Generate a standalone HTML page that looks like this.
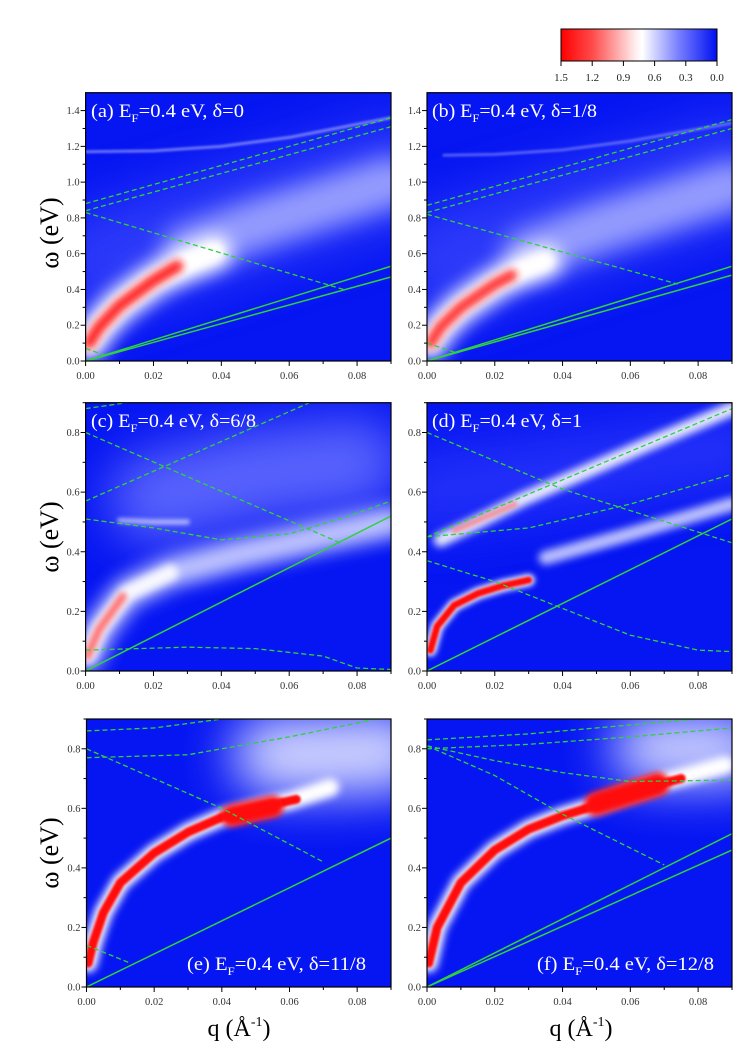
<!DOCTYPE html>
<html><head><meta charset="utf-8"><style>
html,body{margin:0;padding:0;background:#fff;}
svg{display:block;font-family:"Liberation Serif",serif;}
</style></head><body>
<svg id="fig" width="748" height="1057" viewBox="0 0 748 1057" xmlns="http://www.w3.org/2000/svg">
<defs>
<filter id="b1" filterUnits="userSpaceOnUse" x="0" y="0" width="748" height="1057"><feGaussianBlur stdDeviation="1"/></filter>
<filter id="b2" filterUnits="userSpaceOnUse" x="0" y="0" width="748" height="1057"><feGaussianBlur stdDeviation="2"/></filter>
<filter id="b3" filterUnits="userSpaceOnUse" x="0" y="0" width="748" height="1057"><feGaussianBlur stdDeviation="3"/></filter>
<filter id="b4" filterUnits="userSpaceOnUse" x="0" y="0" width="748" height="1057"><feGaussianBlur stdDeviation="4"/></filter>
<filter id="b6" filterUnits="userSpaceOnUse" x="0" y="0" width="748" height="1057"><feGaussianBlur stdDeviation="6"/></filter>
<filter id="b9" filterUnits="userSpaceOnUse" x="0" y="0" width="748" height="1057"><feGaussianBlur stdDeviation="9"/></filter>
<filter id="b12" filterUnits="userSpaceOnUse" x="0" y="0" width="748" height="1057"><feGaussianBlur stdDeviation="12"/></filter>
<filter id="b25" filterUnits="userSpaceOnUse" x="0" y="0" width="748" height="1057"><feGaussianBlur stdDeviation="25"/></filter>
<linearGradient id="cbgrad" x1="0" x2="1" y1="0" y2="0">
<stop offset="0" stop-color="#ff0000"/><stop offset="0.2" stop-color="#ff4a4a"/><stop offset="0.48" stop-color="#fff0f0"/><stop offset="0.52" stop-color="#ffffff"/><stop offset="0.75" stop-color="#7a80ff"/><stop offset="1" stop-color="#0010f0"/>
</linearGradient>
</defs>
<g id="colorbar">
<rect x="561" y="29" width="156" height="32" fill="url(#cbgrad)" stroke="#000" stroke-width="1"/>
</g>
</svg>
<script>
const NS='http://www.w3.org/2000/svg';
const svg=document.getElementById('fig');
const cbLabels=['1.5','1.2','0.9','0.6','0.3','0.0'];

// ---- panel (a) data ----
const aRidgeQ=[0.001,0.004,0.01,0.02,0.03,0.038];
const aRidgeW=[0.10,0.19,0.31,0.45,0.55,0.61];
const aCoreQ=[0.001,0.004,0.01,0.02,0.027];
const aCoreW=[0.10,0.19,0.31,0.45,0.53];
const aDiffQ=[0.03,0.05,0.07,0.09];
const aDiffW=[0.62,0.76,0.88,1.0];
const aTopQ=[0.0,0.02,0.04,0.06,0.09];
const aTopW=[1.17,1.175,1.2,1.25,1.36];
const aDash1Q=[0,0.09], aDash1W=[0.88,1.36];
const aDash2Q=[0,0.09], aDash2W=[0.84,1.31];
const aDash3Q=[0,0.076], aDash3W=[0.83,0.40];
const aDash4Q=[0,0.006], aDash4W=[0.07,0.03];
const aSol1Q=[0,0.09], aSol1W=[0,0.53];
const aSol2Q=[0,0.09], aSol2W=[0,0.47];
// ---- panel (b) data ----
const bRidgeQ=[0.001,0.004,0.01,0.02,0.028,0.035];
const bRidgeW=[0.10,0.19,0.30,0.43,0.51,0.56];
const bCoreQ=[0.001,0.004,0.01,0.02,0.025];
const bCoreW=[0.10,0.19,0.30,0.43,0.48];
const bDiffQ=[0.03,0.05,0.07,0.09];
const bDiffW=[0.60,0.74,0.86,0.98];
const bTopQ=[0.005,0.02,0.04,0.06,0.09];
const bTopW=[1.15,1.155,1.18,1.23,1.33];
const bDash1Q=[0,0.09], bDash1W=[0.87,1.35];
const bDash2Q=[0,0.09], bDash2W=[0.83,1.30];
const bDash3Q=[0,0.074], bDash3W=[0.82,0.43];
const bDash4Q=[0,0.008], bDash4W=[0.10,0.05];
const bSol1Q=[0,0.09], bSol1W=[0,0.53];
const bSol2Q=[0,0.09], bSol2W=[0,0.48];
// ---- panel (c) data ----
const cRidgeQ=[0.0005,0.004,0.012,0.025,0.045,0.065,0.09];
const cRidgeW=[0.05,0.14,0.26,0.33,0.39,0.44,0.50];
const cCoreQ=[0.0005,0.004,0.011];
const cCoreW=[0.05,0.14,0.25];
const cStreakQ=[0.01,0.02,0.03];
const cStreakW=[0.505,0.50,0.50];
const cDiffQ=[0.02,0.05,0.08];
const cDiffW=[0.58,0.66,0.70];
const cDash1Q=[0,0.006,0.012], cDash1W=[0.88,0.89,0.90];
const cDash2Q=[0,0.066], cDash2W=[0.57,0.90];
const cDash3Q=[0,0.075], cDash3W=[0.80,0.43];
const cDash4Q=[0,0.02,0.04,0.06,0.075,0.09], cDash4W=[0.51,0.48,0.44,0.46,0.51,0.57];
const cDash5Q=[0,0.03,0.05,0.07,0.08,0.09], cDash5W=[0.07,0.08,0.075,0.05,0.01,0.005];
const cSol1Q=[0,0.09], cSol1W=[0,0.52];
// ---- panel (d) data ----
const dRidgeQ=[0.001,0.003,0.008,0.015,0.022,0.03];
const dRidgeW=[0.07,0.15,0.22,0.26,0.285,0.305];
const dUpQ=[0.004,0.015,0.028,0.045,0.065,0.09];
const dUpW=[0.44,0.50,0.575,0.66,0.76,0.88];
const dUpCoreQ=[0.008,0.018,0.026];
const dUpCoreW=[0.47,0.52,0.56];
const dLowQ=[0.035,0.06,0.09];
const dLowW=[0.38,0.46,0.56];
const dDash1Q=[0,0.04,0.09], dDash1W=[0.80,0.61,0.43];
const dDash2Q=[0,0.09], dDash2W=[0.45,0.88];
const dDash3Q=[0,0.03,0.06,0.09], dDash3W=[0.45,0.48,0.56,0.66];
const dDash4Q=[0,0.02,0.04,0.06,0.08,0.09], dDash4W=[0.37,0.30,0.21,0.12,0.07,0.065];
const dSol1Q=[0,0.09], dSol1W=[0,0.51];
// ---- panel (e) data ----
const eRidgeQ=[0.0005,0.002,0.005,0.01,0.02,0.03,0.04,0.05,0.06,0.072];
const eRidgeW=[0.08,0.15,0.25,0.35,0.45,0.52,0.57,0.60,0.625,0.67];
const eCoreQ=[0.0005,0.002,0.005,0.01,0.02,0.03,0.04,0.05,0.062];
const eCoreW=[0.08,0.15,0.25,0.35,0.45,0.52,0.57,0.60,0.63];
const eBlobQ=[0.043,0.055], eBlobW=[0.575,0.605];
const eDiffQ=[0.055,0.07,0.09];
const eDiffW=[0.78,0.78,0.79];
const eDash1Q=[0,0.02,0.04], eDash1W=[0.86,0.87,0.90];
const eDash2Q=[0,0.03,0.06,0.09], eDash2W=[0.77,0.78,0.84,0.91];
const eDash3Q=[0,0.02,0.04,0.07], eDash3W=[0.80,0.70,0.60,0.42];
const eDash4Q=[0,0.013], eDash4W=[0.14,0.08];
const eSol1Q=[0,0.09], eSol1W=[0,0.50];
// ---- panel (f) data ----
const fRidgeQ=[0.0005,0.003,0.01,0.02,0.03,0.04,0.05,0.06,0.07,0.08,0.088];
const fRidgeW=[0.08,0.20,0.35,0.46,0.53,0.575,0.61,0.65,0.69,0.72,0.745];
const fCoreQ=[0.0005,0.003,0.01,0.02,0.03,0.04,0.05,0.06,0.07,0.075];
const fCoreW=[0.08,0.20,0.35,0.46,0.53,0.575,0.61,0.65,0.685,0.70];
const fBlobQ=[0.05,0.068], fBlobW=[0.615,0.68];
const fDiffQ=[0.065,0.09];
const fDiffW=[0.80,0.80];
const fDash1Q=[0,0.03,0.06,0.08], fDash1W=[0.83,0.85,0.88,0.90];
const fDash2Q=[0,0.03,0.06,0.09], fDash2W=[0.80,0.815,0.84,0.87];
const fDash3Q=[0,0.02,0.04,0.06,0.09], fDash3W=[0.81,0.76,0.72,0.69,0.695];
const fDash4Q=[0,0.02,0.04,0.07], fDash4W=[0.81,0.71,0.58,0.41];
const fSol1Q=[0,0.09], fSol1W=[0,0.515];
const fSol2Q=[0,0.09], fSol2W=[0,0.46];

const yTicksA=['0.0','0.2','0.4','0.6','0.8','1.0','1.2','1.4'];
const yTicksC=['0.0','0.2','0.4','0.6','0.8'];
const xTicks=['0.00','0.02','0.04','0.06','0.08'];

function el(tag,attrs,parent){const e=document.createElementNS(NS,tag);for(const k in attrs)e.setAttribute(k,attrs[k]);(parent||svg).appendChild(e);return e;}

const cb=document.getElementById('colorbar');
cbLabels.forEach((t,i)=>{
  const x=561+i*156/5;
  const tk=el('line',{x1:x,x2:x,y1:61,y2:66,stroke:'#000','stroke-width':1},cb);
  
  
  const tx=el('text',{x:x,y:81,'text-anchor':'middle','font-size':11,fill:'#222'},cb);
  tx.textContent=t;
  
  
});

function layer(q,w,color,width,blur,op){return {q,w,color,width,blur,op};}
const G='#2fd13f';
const panels=[
 {id:'a',left:85.6,right:391,top:92.7,bottom:361,ymax:1.5,yt:yTicksA,ystep:0.2,label:'(a)',delta:'0',lx:91,ly:117,tl:153,
  layers:[layer([0.005,0.09],[0.55,1.05],'#4c56ff',110,'b25',0.55),layer(aDiffQ,aDiffW,'#b8bdff',50,'b12',0.75),layer(aTopQ,aTopW,'#ffffff',3,'b1',0.4),
   layer(aRidgeQ,aRidgeW,'#ffffff',34,'b9',1),layer(aRidgeQ,aRidgeW,'#ffffff',18,'b4',1),layer(aCoreQ,aCoreW,'#ff1818',12,'b4',0.95)],
  lines:[[aDash1Q,aDash1W,1],[aDash2Q,aDash2W,1],[aDash3Q,aDash3W,1],[aDash4Q,aDash4W,1],[aSol1Q,aSol1W,0],[aSol2Q,aSol2W,0]]},
 {id:'b',left:427,right:732,top:92.7,bottom:361,ymax:1.5,yt:yTicksA,ystep:0.2,label:'(b)',delta:'1/8',lx:432,ly:117,tl:165,
  layers:[layer([0.005,0.09],[0.55,1.05],'#4c56ff',110,'b25',0.55),layer(bDiffQ,bDiffW,'#b8bdff',50,'b12',0.75),layer(bTopQ,bTopW,'#ffffff',3,'b1',0.3),
   layer(bRidgeQ,bRidgeW,'#ffffff',32,'b9',1),layer(bRidgeQ,bRidgeW,'#ffffff',16,'b4',1),layer(bCoreQ,bCoreW,'#ff1818',11,'b4',0.9)],
  lines:[[bDash1Q,bDash1W,1],[bDash2Q,bDash2W,1],[bDash3Q,bDash3W,1],[bDash4Q,bDash4W,1],[bSol1Q,bSol1W,0],[bSol2Q,bSol2W,0]]},
 {id:'c',left:85.6,right:391,top:402.7,bottom:671,ymax:0.9,yt:yTicksC,ystep:0.2,label:'(c)',delta:'6/8',lx:91,ly:427,tl:165,
  layers:[layer(cDiffQ,cDiffW,'#7078ff',90,'b25',0.8),layer(cRidgeQ,cRidgeW,'#d8dcff',30,'b9',0.9),layer(cRidgeQ.slice(0,4),cRidgeW.slice(0,4),'#ffffff',16,'b4',0.9),layer(cStreakQ,cStreakW,'#ffffff',5,'b2',0.6),
   layer(cCoreQ,cCoreW,'#ff6060',8,'b3',0.9)],
  lines:[[cDash1Q,cDash1W,1],[cDash2Q,cDash2W,1],[cDash3Q,cDash3W,1],[cDash4Q,cDash4W,1],[cDash5Q,cDash5W,1],[cSol1Q,cSol1W,0]]},
 {id:'d',left:427,right:732,top:402.7,bottom:671,ymax:0.9,yt:yTicksC,ystep:0.2,label:'(d)',delta:'1',lx:432,ly:427,tl:150,
  layers:[layer([0.0,0.09],[0.6,0.75],'#3f48ff',80,'b25',0.5),layer(dUpQ,dUpW,'#ffffff',14,'b4',0.9),layer(dLowQ,dLowW,'#e6e8ff',14,'b4',0.8),
   layer(dUpCoreQ,dUpCoreW,'#ff7070',5,'b2',0.8),layer(dRidgeQ,dRidgeW,'#ffffff',12,'b3',1),layer(dRidgeQ,dRidgeW,'#ff0a0a',7,'b1',1)],
  lines:[[dDash1Q,dDash1W,1],[dDash2Q,dDash2W,1],[dDash3Q,dDash3W,1],[dDash4Q,dDash4W,1],[dSol1Q,dSol1W,0]]},
 {id:'e',left:86.5,right:391,top:719,bottom:987,ymax:0.9,yt:yTicksC,ystep:0.2,label:'(e)',delta:'11/8',lx:187,ly:970,tl:179,
  layers:[layer(eDiffQ,eDiffW,'#dfe2ff',80,'b25',0.95),layer(eRidgeQ,eRidgeW,'#ffffff',18,'b4',1),layer(eCoreQ,eCoreW,'#ff0a0a',9,'b1',1),layer(eBlobQ,eBlobW,'#ff0a0a',22,'b3',1)],
  lines:[[eDash1Q,eDash1W,1],[eDash2Q,eDash2W,1],[eDash3Q,eDash3W,1],[eDash4Q,eDash4W,1],[eSol1Q,eSol1W,0]]},
 {id:'f',left:427,right:732,top:719,bottom:987,ymax:0.9,yt:yTicksC,ystep:0.2,label:'(f)',delta:'12/8',lx:537,ly:970,tl:177,
  layers:[layer(fDiffQ,fDiffW,'#dfe2ff',70,'b25',0.95),layer(fRidgeQ,fRidgeW,'#ffffff',18,'b4',1),layer(fCoreQ,fCoreW,'#ff0a0a',9,'b1',1),layer(fBlobQ,fBlobW,'#ff0a0a',24,'b3',1)],
  lines:[[fDash1Q,fDash1W,1],[fDash2Q,fDash2W,1],[fDash3Q,fDash3W,1],[fDash4Q,fDash4W,1],[fSol1Q,fSol1W,0],[fSol2Q,fSol2W,0]]}
];

const defs=svg.querySelector('defs');
panels.forEach(p=>{
  const W=p.right-p.left,H=p.bottom-p.top;
  const X=q=>p.left+q/0.09*W;
  const Y=w=>p.bottom-w/p.ymax*H;
  const cp=el('clipPath',{id:'clip'+p.id},defs);
  el('rect',{x:p.left,y:p.top,width:W,height:H},cp);
  const g=el('g',{});
  
  
  const plot=el('g',{'clip-path':'url(#clip'+p.id+')'},g);
  const bg=el('rect',{x:p.left,y:p.top,width:W,height:H,fill:'#0616f2'},plot);
  
  
  p.layers.forEach(l=>{
    const pts=l.q.map((q,i)=>X(q)+','+Y(l.w[i])).join(' ');
    const pl=el('polyline',{points:pts,fill:'none',stroke:l.color,'stroke-width':l.width,'stroke-linecap':'round','stroke-linejoin':'round',opacity:l.op,filter:'url(#'+l.blur+')'},plot);
    
    
  });
  p.lines.forEach(ln=>{
    const pts=ln[0].map((q,i)=>X(q)+','+Y(ln[1][i])).join(' ');
    const attrs={points:pts,fill:'none',stroke:G,'stroke-width':ln[2]?1.3:1.5};
    if(ln[2])attrs['stroke-dasharray']='5,3';
    const pl=el('polyline',attrs,plot);
    
    
  });
  const fr=el('rect',{x:p.left,y:p.top,width:W,height:H,fill:'none',stroke:'#000','stroke-width':1.2},g);
  
  
  p.yt.forEach((t,i)=>{
    const w=i*p.ystep, y=Y(w);
    el('line',{x1:p.left-5,x2:p.left,y1:y,y2:y,stroke:'#000','stroke-width':1},g);
    const ym=Y(w+p.ystep/2);
    if(w+p.ystep/2<=p.ymax) el('line',{x1:p.left-3,x2:p.left,y1:ym,y2:ym,stroke:'#000','stroke-width':1},g);
    const tx=el('text',{x:p.left-6,y:y+3.5,'text-anchor':'end','font-size':10.5,fill:'#333'},g);
    tx.textContent=t;
    
    
  });
  xTicks.forEach((t,i)=>{
    const q=i*0.02,x=X(q);
    el('line',{x1:x,x2:x,y1:p.bottom,y2:p.bottom+5,stroke:'#000','stroke-width':1},g);
    el('line',{x1:X(q+0.01),x2:X(q+0.01),y1:p.bottom,y2:p.bottom+3,stroke:'#000','stroke-width':1},g);
    const tx=el('text',{x:x,y:p.bottom+18,'text-anchor':'middle','font-size':10.5,fill:'#333'},g);
    tx.textContent=t;
    
    
  });
  const lab=el('text',{x:p.lx,y:p.ly,'font-size':19,fill:'#fff',textLength:p.tl,lengthAdjust:'spacingAndGlyphs'},g);
  
  
  const s1=el('tspan',{},lab);s1.textContent=p.label+' E';
  const s2=el('tspan',{dy:5,'font-size':12},lab);s2.textContent='F';
  const s3=el('tspan',{dy:-5},lab);s3.textContent='=0.4 eV, \u03b4='+p.delta;
});

[233,537,853].forEach(cy=>{
  const t=el('text',{x:0,y:0,transform:'translate(58,'+cy+') rotate(-90)','text-anchor':'middle','font-size':26,fill:'#000'});
  t.textContent='\u03c9 (eV)';
  
  
});
[239,581].forEach(cx=>{
  const t=el('text',{x:cx,y:1036,'text-anchor':'middle','font-size':24,fill:'#000'});
  
  
  const a=el('tspan',{},t);a.textContent='q (\u00c5';
  const b=el('tspan',{dy:-10,'font-size':14},t);b.textContent='-1';
  const c=el('tspan',{dy:10},t);c.textContent=')';
});
</script>
</body></html>
